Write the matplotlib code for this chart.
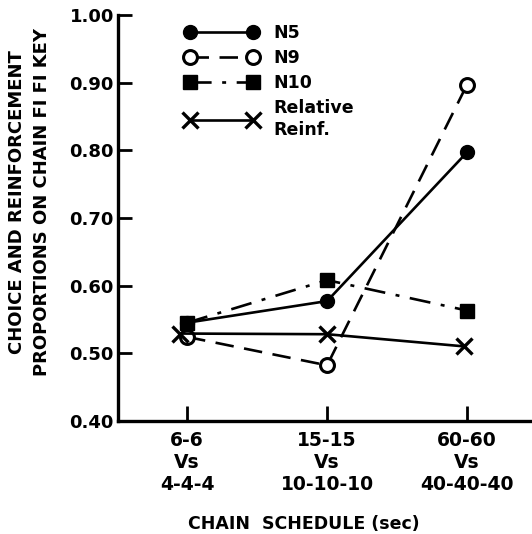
import matplotlib.pyplot as plt

# data
schedules = ["6-6\nVs\n4-4-4", "15-15\nVs\n10-10-10", "60-60\nVs\n40-40-40"]
x_pos = [1, 2, 3]
n5 = [0.545, 0.577, 0.797]
n9 = [0.524, 0.482, 0.897]
n10 = [0.545, 0.608, 0.563]
rel_reinf = [0.529, 0.528, 0.510]
rel_x = [0.95, 2.0, 2.98]

plt.rcParams['font.family'] = ['DejaVu Sans']
plt.rcParams['font.weight'] = 'bold'
plt.rcParams['axes.labelweight'] = 'bold'

fig = plt.figure(figsize=(5.32, 5.34), dpi=100)
ax = fig.add_axes([0.222, 0.212, 0.778, 0.760])

lw = 1.9
ax.plot(x_pos, n5, color='black', lw=lw, marker='o', ms=10, label='N5')
ax.plot(x_pos, n9, color='black', lw=lw, marker='o', ms=10, mfc='white', mew=2.2,
        dashes=(7, 4), label='N9')
ax.plot(x_pos, n10, color='black', lw=lw, marker='s', ms=10,
        dashes=(8, 4, 1.5, 4), label='N10')
ax.plot(rel_x, rel_reinf, color='black', lw=lw, marker='x', ms=11, mew=2.4,
        label='Relative\nReinf.')

ax.set_xlim(0.507, 3.464)
ax.set_ylim(0.40, 1.00)
ax.set_yticks([0.40, 0.50, 0.60, 0.70, 0.80, 0.90, 1.00])
ax.set_yticklabels(['0.40', '0.50', '0.60', '0.70', '0.80', '0.90', '1.00'])
ax.set_xticks(x_pos)
ax.set_xticklabels(schedules, linespacing=1.2)

for s in ['top', 'right']:
    ax.spines[s].set_visible(False)
for s in ['left', 'bottom']:
    ax.spines[s].set_linewidth(2.4)

ax.tick_params(axis='y', direction='in', length=10, width=2, labelsize=13, pad=3)
ax.tick_params(axis='x', direction='in', length=11, width=2, labelsize=13.5, pad=7)

ax.set_xlabel('CHAIN  SCHEDULE (sec)', fontsize=12.5)
ax.xaxis.set_label_coords(0.449, -0.232)
ax.set_ylabel('CHOICE AND REINFORCEMENT\nPROPORTIONS ON CHAIN FI FI KEY',
              fontsize=13, linespacing=1.45)
ax.yaxis.set_label_coords(-0.163, 0.539)

leg = ax.legend(loc='upper left', bbox_to_anchor=(0.162, 0.978), frameon=False,
                numpoints=2, handlelength=4.2, fontsize=12.5, labelspacing=0.4,
                handletextpad=0.9, borderpad=0, borderaxespad=0)
for t in leg.get_texts():
    t.set_linespacing(1.3)

fig.savefig('out.png', dpi=100)
